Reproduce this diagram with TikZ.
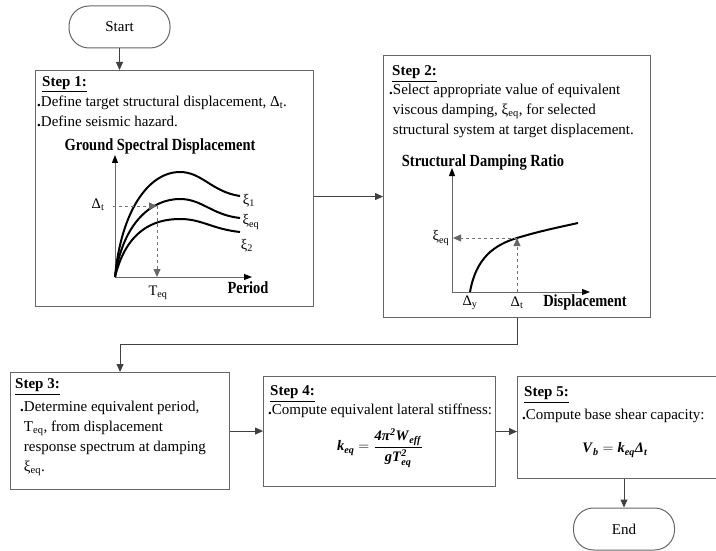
\documentclass[tikz,border=0pt]{standalone}
\usepackage{amsmath}
\usepackage{fontspec}
\setmainfont{Liberation Serif}
\newfontfamily\labelfont[FakeStretch=0.85]{Liberation Serif}
\usetikzlibrary{arrows.meta, positioning}

\newcommand{\bi}[1]{\textbf{\textit{#1}}}
\newcommand{\dotitem}{{\bfseries.}}

\tikzset{
  stepbox/.style={draw=black!60, line width=1.1pt, inner sep=0pt, anchor=north west},
  terminal/.style={draw=black!60, line width=1pt, rounded corners=20pt, minimum width=101pt,
    minimum height=42pt, font=\fontsize{15}{16}\selectfont},
  flow/.style={draw=black!75, line width=1pt, -{Triangle[length=8pt,width=7pt]}},
  steptitle/.style={anchor=north west, inner sep=0pt, font=\bfseries\fontsize{15}{16}\selectfont},
  steptext/.style={anchor=north west, inner sep=0pt, align=left, font=\fontsize{15}{20}\selectfont},
  axis/.style={draw=black!60, line width=1pt, {Triangle[length=8pt,width=6pt,color=black]}-{Triangle[length=8pt,width=6pt,color=black]}},
  guide/.style={draw=black!55, dashed, line width=0.8pt, -{Triangle[length=8pt,width=7pt,color=black!60]}},
  response/.style={line width=2pt, black},
  lbl/.style={inner sep=0pt, font=\fontsize{14.5}{15}\selectfont},
  axlabel/.style={inner sep=0pt, font=\labelfont\bfseries\fontsize{17}{17}\selectfont},
  formula/.style={inner sep=0pt, font=\fontsize{14.5}{16}\selectfont}
}

\begin{document}
\begin{tikzpicture}[x=1pt, y=-1pt]
  \useasboundingbox (0,0) rectangle (716,551);

  % Start / End
  \node[terminal] (start) at (119.5,27) {Start};
  \node[terminal] (end) at (624,529) {End};

  % Step boxes
  \node[stepbox, minimum width=278pt, minimum height=236pt] (s1) at (35,70) {};
  \node[stepbox, minimum width=267pt, minimum height=262pt] (s2) at (383,55) {};
  \node[stepbox, minimum width=219pt, minimum height=117pt] (s3) at (10,372) {};
  \node[stepbox, minimum width=232pt, minimum height=110pt] (s4) at (263,376) {};
  \node[stepbox, minimum width=201pt, minimum height=102pt] (s5) at (517,376) {};

  % Step 1
  \node[steptitle] (t1) at (42,76) {\underline{Step 1:}};
  \node[steptext] (b1) at (37,95.5) {\dotitem Define target structural displacement, Δ\textsubscript{t}.\\
    \dotitem Define seismic hazard.};
  \node[axlabel] (gsd) at (160,146) {Ground Spectral Displacement};
  \draw[axis] (115,155) -- (115,277) -- (252,277);
  \draw[response] (115,277) .. controls (121,212) and (148,172) .. (180,172)
    .. controls (202,172) and (212,192) .. (240,196);
  \draw[response] (115,277) .. controls (123,222) and (152,199) .. (180,199)
    .. controls (202,199) and (212,215) .. (240,218);
  \draw[response] (115,277) .. controls (126,232) and (152,219) .. (180,219)
    .. controls (202,219) and (212,229) .. (240,232);
  \coordinate (hit1) at (157,206);
  \draw[guide] (113,206) -- (hit1);
  \draw[guide] (hit1) -- (157,277);
  \node[lbl] (dt1) at (98,205) {Δ\textsubscript{t}};
  \node[lbl] (teq) at (158,293) {T\textsubscript{eq}};
  \node[axlabel] (per) at (248,288) {Period};
  \node[lbl] (xi1) at (249,201) {ξ\textsubscript{1}};
  \node[lbl] (xieq) at (251,222) {ξ\textsubscript{eq}};
  \node[lbl] (xi2) at (247,246) {ξ\textsubscript{2}};

  % Step 2
  \node[steptitle] (t2) at (392,65.5) {\underline{Step 2:}};
  \node[steptext] (b2) at (389,83.5) {\dotitem Select appropriate value of equivalent\\
    \hphantom{\dotitem}viscous damping, ξ\textsubscript{eq}, for selected\\
    \hphantom{\dotitem}structural system at target displacement.};
  \node[axlabel] (sdr) at (483,162) {Structural Damping Ratio};
  \draw[axis] (452,168) -- (452,292) -- (590,292);
  \draw[response] (470,292) .. controls (476,258) and (494,245) .. (517,238)
    .. controls (540,231) and (560,227) .. (578,223);
  \coordinate (hit2) at (517,238);
  \draw[guide] (hit2) -- (453,238);
  \draw[guide] (517,292) -- (hit2);
  \node[lbl] (xieq2) at (441,238) {ξ\textsubscript{eq}};
  \node[lbl] (dy) at (470,303) {Δ\textsubscript{y}};
  \node[lbl] (dt2) at (517,303) {Δ\textsubscript{t}};
  \node[axlabel] (disp) at (585,302) {Displacement};

  % Step 3
  \node[steptitle] (t3) at (15,378.5) {\underline{Step 3:}};
  \node[steptext] (b3) at (20,400.5) {\dotitem Determine equivalent period,\\
    \hphantom{\dotitem}T\textsubscript{eq}, from displacement\\
    \hphantom{\dotitem}response spectrum at damping\\
    \hphantom{\dotitem}ξ\textsubscript{eq}.};

  % Step 4
  \node[steptitle] (t4) at (270,385.5) {\underline{Step 4:}};
  \node[steptext] (b4) at (268,403.5) {\dotitem Compute equivalent lateral stiffness:};
  \node[formula] (f4) at (380,448) {$\bi{k}_{\bi{eq}}=\dfrac{\bi{4π}^{\bi{2}}\bi{W}_{\bi{eff}}}{\bi{g}\bi{T}^{\bi{2}}_{\bi{eq}}}$};

  % Step 5
  \node[steptitle] (t5) at (524,386.5) {\underline{Step 5:}};
  \node[steptext] (b5) at (522,408.5) {\dotitem Compute base shear capacity:};
  \node[formula] (f5) at (615,450) {$\bi{V}_{\bi{b}}= \bi{k}_{\bi{eq}}\bi{Δ}_{\bi{t}}$};

  % Connectors
  \draw[flow] (start.south) -- (start.south |- s1.north);
  \draw[flow] ([yshift=-8pt]s1.east) -- ([yshift=-8pt]s1.east -| s2.west);
  \draw[flow] (s2.south) -- ++(0,26) -| (s3.north);
  \draw[flow] (s3.east) -- (s3.east -| s4.west);
  \draw[flow] (s4.east) -- (s4.east -| s5.west);
  \draw[flow] (end.north |- s5.south) -- (end.north);
\end{tikzpicture}
\end{document}
